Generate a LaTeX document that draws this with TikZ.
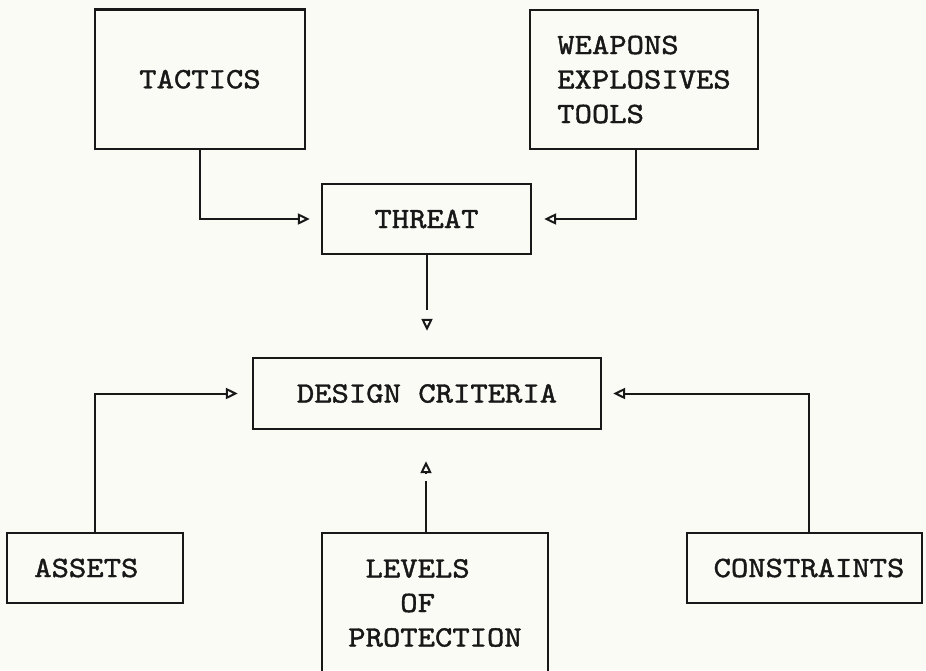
\documentclass[tikz,border=0pt]{standalone}
\usepackage{fontspec}
\newfontfamily\typewriter[Extension=.otf, FakeStretch=1.12, FakeBold=1.4]{lmmono10-regular}
\usetikzlibrary{arrows.meta,calc}
\definecolor{paper}{RGB}{251,251,246}
\definecolor{ink}{RGB}{24,24,24}
\tikzset{
  box/.style={draw=ink, line width=2.3pt, inner sep=0pt, text=ink, align=left,
    font=\typewriter\fontsize{29.5}{34.5}\selectfont},
  conn/.style={draw=ink, line width=2pt,
    -{Triangle[open,length=12pt,width=11pt]}},
  plainline/.style={draw=ink, line width=2pt}
}
\begin{document}
\begin{tikzpicture}[x=1pt,y=-1pt]
\path[use as bounding box, fill=paper] (0,0) rectangle (926,670);
\clip (0,0) rectangle (926,670);

% boxes
\node[box, minimum width=210pt, minimum height=139.5pt] (tactics) at (200,79.25) {TACTICS};
\node[box, minimum width=228pt, minimum height=139pt] (weapons) at (644,79.5) {WEAPONS\\EXPLOSIVES\\TOOLS};
\node[box, minimum width=209pt, minimum height=70pt] (threat) at (426.5,219) {THREAT};
\node[box, minimum width=348pt, minimum height=71pt] (dc) at (427,393.5) {DESIGN CRITERIA};
\node[box, minimum width=176pt, minimum height=70pt] (assets) at (95,568) {ASSETS\phantom{X}};
\node[box, minimum width=226pt, minimum height=140pt] (levels) at (435,603) {\phantom{X}LEVELS\\\phantom{XXX}OF\\PROTECTION};
\node[box, minimum width=235pt, minimum height=70pt] (constraints) at (804.5,568) {\hspace*{9pt}CONSTRAINTS};

% inputs to THREAT
\draw[conn, shorten >=11pt] (tactics.south) |- (threat.west);
\draw[conn, shorten >=12pt] ($(weapons.south)+(-8,0)$) |- (threat.east);

% THREAT feeds DESIGN CRITERIA
\draw[plainline] (threat.south) -- ($(threat.south)+(0,55)$);
\coordinate (dcin) at ($(dc.north)+(0,-26)$);
\draw[conn] ($(dcin)+(0,-12)$) -- (dcin);

% inputs to DESIGN CRITERIA
\draw[conn, shorten >=14pt] (assets.north) |- (dc.west);
\draw[conn, shorten >=11pt] ($(constraints.north)+(4.5,0)$) |- (dc.east);
\draw[plainline] ($(levels.north)+(-9,0)$) -- ++(0,-51);
\coordinate (dcout) at ($(dc.south)+(-1,31)$);
\draw[conn] ($(dcout)+(0,12)$) -- (dcout);
\end{tikzpicture}
\end{document}
